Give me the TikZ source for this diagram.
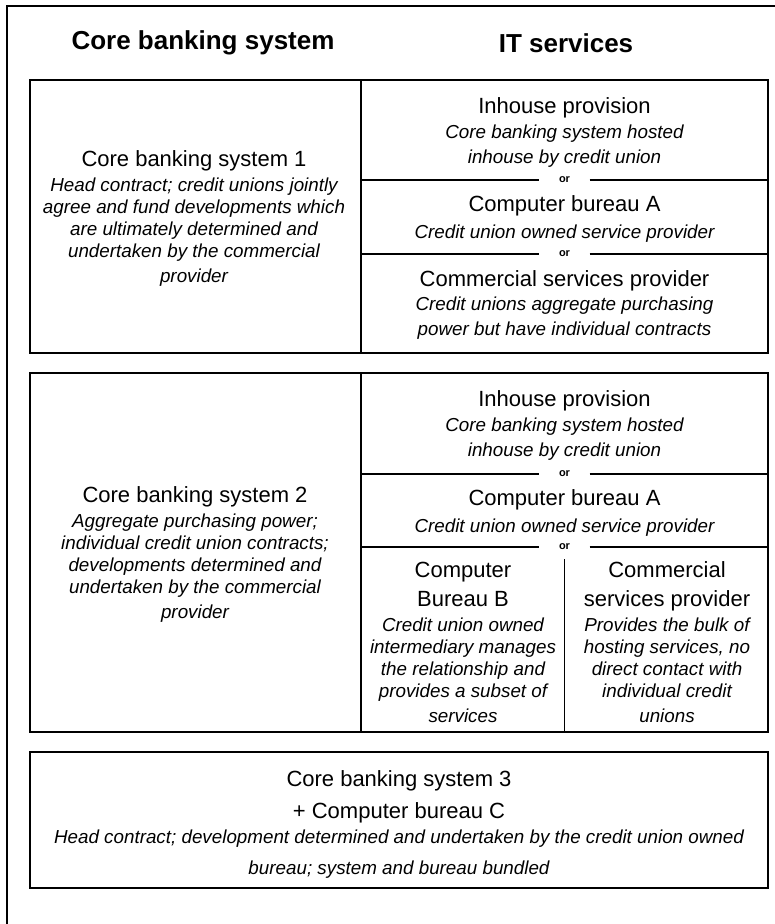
\documentclass[tikz,border=0pt]{standalone}
\usepackage{fontspec}
\setmainfont{Liberation Sans}
\newcommand{\desc}{\itshape\fontsize{18.8}{22}\selectfont}
\tikzset{
  frame/.style={draw, line width=1.8pt},
  cell/.style={align=flush center, text width=#1, font=\fontsize{22}{25}\selectfont, inner sep=0pt},
  colhead/.style={font=\bfseries\fontsize{26}{30}\selectfont},
  ortag/.style={font=\bfseries\fontsize{11}{12}\selectfont, minimum width=50pt, minimum height=24pt, inner sep=0pt},
}

\begin{document}
\begin{tikzpicture}[x=1pt, y=-1pt]
	\useasboundingbox (0,0) rectangle (775,924);
	% Outer frame
	\draw[line width=1.4pt] (7,924) -- (7,6) -- (775,6);
	
	% Headings
	\node[colhead] (hcore) at (203,43) {Core banking system};
	\node[colhead] (hit) at (566,43) {IT services};
	
	% System 1
	\draw[frame] (30,80) rectangle (768,353);
	\draw[frame] (361,80) -- (361,353);
	\node[ortag] (or1) at (564.5,180) {or};
	\node[ortag] (or2) at (564.5,254) {or};
	\draw[frame] (361,180) -- (or1.west);
	\draw[frame] (or1.east) -- (768,180);
	\draw[frame] (361,254) -- (or2.west);
	\draw[frame] (or2.east) -- (768,254);
	
	\node[cell=325pt] (cbs1) at (194,218) {Core banking system 1\\[3pt]
		\desc Head contract; credit unions jointly\\ agree and fund developments which\\
		are ultimately determined and\\ undertaken by the commercial\\ provider};
	\node[cell=395pt] (inh1) at (564.5,132) {Inhouse provision\\[3pt]
		\desc Core banking system hosted\\ inhouse by credit union};
	\node[cell=395pt] (cba1) at (564.5,219) {Computer bureau A\\[2pt]
		\desc Credit union owned service provider};
	\node[cell=395pt] (csp1) at (564.5,305) {Commercial services provider\\[2pt]
		\desc Credit unions aggregate purchasing\\ power but have individual contracts};
	
	% System 2
	\draw[frame] (30,373) rectangle (768,732);
	\draw[frame] (361,373) -- (361,732);
	\node[ortag] (or3) at (564.5,474) {or};
	\node[ortag] (or4) at (564.5,547) {or};
	\draw[frame] (361,474) -- (or3.west);
	\draw[frame] (or3.east) -- (768,474);
	\draw[frame] (361,547) -- (or4.west);
	\draw[frame] (or4.east) -- (768,547);
	\draw[frame] (or4.south) -- (564.5,732);
	
	\node[cell=325pt] (cbs2) at (195,554.5) {Core banking system 2\\[3pt]
		\desc Aggregate purchasing power;\\ individual credit union contracts;\\
		developments determined and\\ undertaken by the commercial\\ provider};
	\node[cell=395pt] (inh2) at (564.5,425) {Inhouse provision\\[3pt]
		\desc Core banking system hosted\\ inhouse by credit union};
	\node[cell=395pt] (cba2) at (564.5,513) {Computer bureau A\\[2pt]
		\desc Credit union owned service provider};
	\node[cell=198pt] (cbb) at (463,642.5) {Computer\\[4pt] Bureau B\\[3pt]
		\desc Credit union owned\\ intermediary manages\\ the relationship and\\
		provides a subset of\\ services};
	\node[cell=198pt] (csp2) at (667,642.5) {Commercial\\[4pt] services provider\\[3pt]
		\desc Provides the bulk of\\ hosting services, no\\ direct contact with\\
		individual credit\\ unions};
	
	% System 3
	\draw[frame] (30,752) rectangle (768,888);
	\node[cell=730pt] (cbs3) at (399,824) {Core banking system 3\\[7pt]
		+ Computer bureau C\\[3pt]
		\desc Head contract; development determined and undertaken by the credit union owned\\[6pt]
		bureau; system and bureau bundled};
\end{tikzpicture}
\end{document}
